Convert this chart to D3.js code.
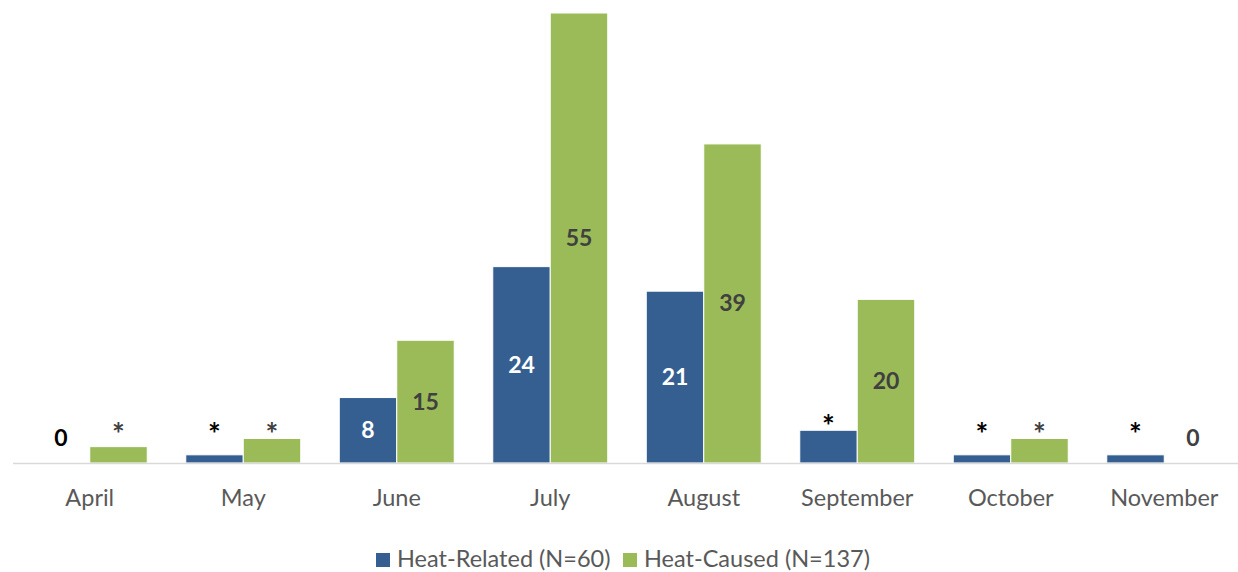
<!DOCTYPE html>
<html lang="en">
<head>
    <meta charset="UTF-8">
    <title>Heat deaths by month</title>
    <script src="https://d3js.org/d3.v7.min.js"></script>
    <style>
        body { margin: 0; background: #fff; }
        text { font-family: Lato, "Open Sans", sans-serif; }
    </style>
</head>
<body>
    <svg width="1238" height="572"></svg>

    <script>
        const months = ["April", "May", "June", "July", "August", "September", "October", "November"];
        const heatRelated = [0, 1, 8, 24, 21, 4, 1, 1];
        const heatCaused = [2, 3, 15, 55, 39, 20, 3, 0];
        const relatedLabels = ["0", "*", "8", "24", "21", "*", "*", "*"];
        const causedLabels = ["*", "*", "15", "55", "39", "20", "*", "0"];
        const seriesNames = ["Heat-Related (N=60)", "Heat-Caused (N=137)"];

        const colors = ["#355f91", "#9bbb59"];
        const series = [
            {key: "related", values: heatRelated, labels: relatedLabels, inside: "#ffffff", outside: "#000000"},
            {key: "caused", values: heatCaused, labels: causedLabels, inside: "#404040", outside: "#404040"}
        ];

        const svg = d3.select("svg");
        const baseY = 463;

        const x = d3.scaleBand()
            .domain(months)
            .range([13, 1241]);

        const x1 = d3.scaleBand()
            .domain(series.map(s => s.key))
            .range([0, x.bandwidth()])
            .paddingInner(0)
            .paddingOuter(0.335);

        const y = d3.scaleLinear()
            .domain([0, 55])
            .range([baseY, 13]);

        // label y: centred in bar for numbers, above bar for "*" and "0"
        function labelY(v, lab) {
            if (lab === "*") return Math.min(y(3), y(v)) - 9 + 16;
            if (lab === "0") return y(v) - 17;
            return (y(v) + baseY) / 2 + 8;
        }

        series.forEach((s, si) => {
            const g = svg.append("g");
            g.selectAll("rect")
                .data(months)
                .enter().append("rect")
                .attr("x", m => x(m) + x1(s.key))
                .attr("y", (m, i) => y(s.values[i]))
                .attr("width", x1.bandwidth())
                .attr("height", (m, i) => baseY - y(s.values[i]))
                .attr("fill", colors[si])
                .attr("stroke", "#ffffff")
                .attr("stroke-width", 1)
                .style("display", (m, i) => s.values[i] > 0 ? null : "none");

            g.selectAll("text")
                .data(months)
                .enter().append("text")
                .attr("x", m => x(m) + x1(s.key) + x1.bandwidth() / 2)
                .attr("y", (m, i) => labelY(s.values[i], s.labels[i]))
                .attr("text-anchor", "middle")
                .attr("font-size", (m, i) => s.labels[i] === "*" ? 30 : 23)
                .attr("font-weight", "bold")
                .attr("fill", (m, i) => {
                    const lab = s.labels[i];
                    return (lab === "*" || lab === "0") ? s.outside : s.inside;
                })
                .text((m, i) => s.labels[i]);
        });

        // baseline
        svg.append("line")
            .attr("x1", 13).attr("x2", 1238)
            .attr("y1", baseY + 0.5).attr("y2", baseY + 0.5)
            .attr("stroke", "#d9d9d9")
            .attr("stroke-width", 1.5);

        // month labels
        const xAxis = svg.append("g")
            .attr("transform", `translate(0,${baseY})`)
            .call(d3.axisBottom(x).tickSize(0).tickPadding(0));
        xAxis.select(".domain").remove();
        xAxis.selectAll("text")
            .attr("dy", 0)
            .attr("y", 43)
            .attr("font-size", 23.5)
            .attr("fill", "#595959")
            .style("font-family", "Lato, 'Open Sans', sans-serif");

        // legend
        const legend = svg.append("g");
        const legendX = [376, 623];
        seriesNames.forEach((name, i) => {
            legend.append("rect")
                .attr("x", legendX[i]).attr("y", 553)
                .attr("width", 14).attr("height", 14)
                .attr("fill", colors[i]);
            legend.append("text")
                .attr("x", legendX[i] + 21).attr("y", 567)
                .attr("font-size", 23.5)
                .attr("fill", "#595959")
                .text(name);
        });
    </script>
</body>
</html>
